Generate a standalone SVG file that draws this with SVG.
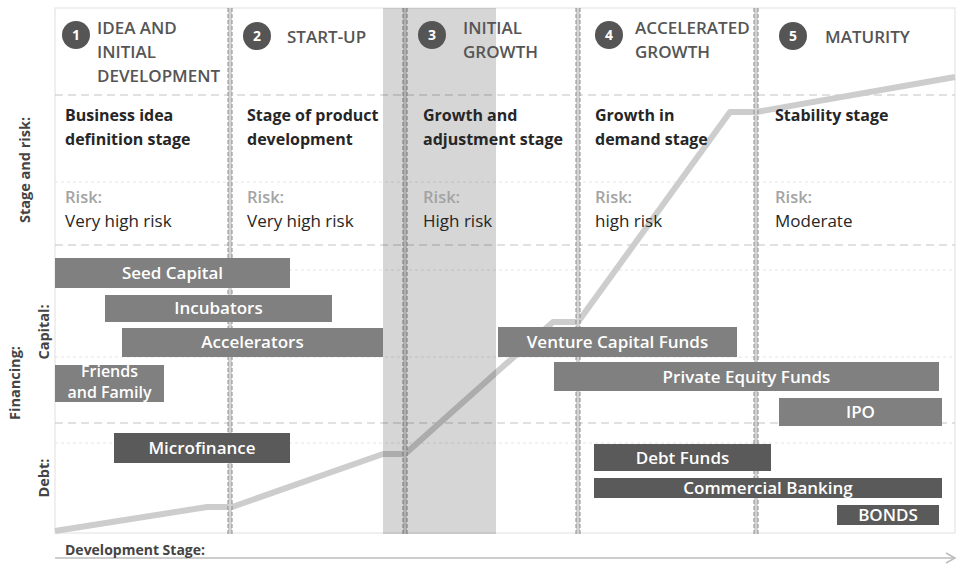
<svg xmlns="http://www.w3.org/2000/svg" width="959" height="565" viewBox="0 0 959 565">
  <style>
    text { font-family: "Open Sans", "Liberation Sans", sans-serif; }
    .hdr { font-size: 17px; font-weight: 600; fill: #555555; }
    .num { font-size: 14px; font-weight: 700; fill: #ffffff; text-anchor: middle; }
    .desc { font-size: 16px; font-weight: 700; fill: #262626; }
    .risk { font-size: 16.5px; font-weight: 600; fill: #a3a3a3; }
    .rval { font-size: 17px; font-weight: 400; fill: #262626; }
    .side { font-size: 14.5px; font-weight: 700; fill: #444444; text-anchor: middle; }
    .bartxt { font-size: 17px; font-weight: 600; fill: #ffffff; text-anchor: middle; }
    .small { font-size: 16px; }
    .cap { fill: #808080; }
    .debt { fill: #5a5a5a; }
    .circ { fill: #555555; }
    .hdash { stroke: #c4c4c4; stroke-width: 1.2; stroke-dasharray: 8 5; fill: none; }
    .hdot { stroke: #e4e4e4; stroke-width: 1; stroke-dasharray: 3 3; fill: none; }
    .vstrip { fill: #d2d2d2; }
    .vdash { stroke: #8c8c8c; stroke-width: 1; stroke-dasharray: 4 2; fill: none; }
  </style>
  <defs>
    <marker id="axisHead" markerWidth="12" markerHeight="12" refX="10" refY="6" orient="auto" markerUnits="userSpaceOnUse">
      <path d="M1,1 L10,6 L1,11" fill="none" stroke="#bdbdbd" stroke-width="1.5"/>
    </marker>
  </defs>

  <rect width="959" height="565" fill="#ffffff"/>

  <!-- chart frame -->
  <rect x="55" y="8" width="900" height="525" fill="none" stroke="#e0e0e0" stroke-width="1"/>

  <!-- horizontal band separators -->
  <g id="grid">
    <line class="hdash" x1="55" y1="95" x2="955" y2="95"/>
    <line class="hdot" x1="55" y1="182" x2="955" y2="182"/>
    <line class="hdash" x1="55" y1="245" x2="955" y2="245"/>
    <line class="hdot" x1="55" y1="270" x2="955" y2="270"/>
    <line class="hdot" x1="55" y1="357" x2="955" y2="357"/>
    <line class="hdash" x1="55" y1="423" x2="955" y2="423"/>
    <line class="hdot" x1="55" y1="443" x2="955" y2="443"/>
  </g>

  <!-- growth curve and axis -->
  <g id="connectors">
    <polyline id="growth-curve" points="55,531 207,507 232,507 383,454 405,454 553,322 578,322 730,112 756,112 955,77" fill="none" stroke="#cdcdcd" stroke-width="6" stroke-linejoin="round"/>
    <line id="axis" x1="55" y1="558" x2="955" y2="558" stroke="#bdbdbd" stroke-width="1.5" marker-end="url(#axisHead)"/>
  </g>

  <!-- stage dividers -->
  <g id="dividers">
    <g id="div-1"><rect class="vstrip" x="228" y="8" width="4" height="526"/><line class="vdash" x1="228" y1="8" x2="228" y2="534"/><line class="vdash" x1="232" y1="8" x2="232" y2="534"/></g>
    <g id="div-2"><rect class="vstrip" x="403" y="8" width="4" height="526"/><line class="vdash" x1="403" y1="8" x2="403" y2="534"/><line class="vdash" x1="407" y1="8" x2="407" y2="534"/></g>
    <g id="div-3"><rect class="vstrip" x="576" y="8" width="4" height="526"/><line class="vdash" x1="576" y1="8" x2="576" y2="534"/><line class="vdash" x1="580" y1="8" x2="580" y2="534"/></g>
    <g id="div-4"><rect class="vstrip" x="754" y="8" width="4" height="526"/><line class="vdash" x1="754" y1="8" x2="754" y2="534"/><line class="vdash" x1="758" y1="8" x2="758" y2="534"/></g>
  </g>

  <!-- shaded transition band -->
  <rect id="band" x="383" y="8" width="113" height="526" fill="#000000" fill-opacity="0.16"/>

  <!-- axis labels -->
  <g id="labels">
    <text class="side" transform="translate(30,170) rotate(-90)">Stage and risk:</text>
    <text class="side" transform="translate(49,332) rotate(-90)">Capital:</text>
    <text class="side" transform="translate(20,383) rotate(-90)">Financing:</text>
    <text class="side" transform="translate(49,478) rotate(-90)">Debt:</text>
    <text x="65" y="555" style="font-size:14px;font-weight:700;fill:#444444">Development Stage:</text>
  </g>

  <!-- stages -->
  <g id="stage-1">
    <circle class="circ" cx="76" cy="35" r="14"/>
    <text class="num" x="76" y="40">1</text>
    <text class="hdr" x="97" y="34">IDEA AND</text>
    <text class="hdr" x="97" y="58">INITIAL</text>
    <text class="hdr" x="97" y="82">DEVELOPMENT</text>
    <text class="desc" x="65" y="121">Business idea</text>
    <text class="desc" x="65" y="145">definition stage</text>
    <text class="risk" x="65" y="203">Risk:</text>
    <text class="rval" x="65" y="227">Very high risk</text>
  </g>
  <g id="stage-2">
    <circle class="circ" cx="257" cy="36" r="14"/>
    <text class="num" x="257" y="41">2</text>
    <text class="hdr" x="287" y="43">START-UP</text>
    <text class="desc" x="247" y="121">Stage of product</text>
    <text class="desc" x="247" y="145">development</text>
    <text class="risk" x="247" y="203">Risk:</text>
    <text class="rval" x="247" y="227">Very high risk</text>
  </g>
  <g id="stage-3">
    <circle class="circ" cx="432" cy="35" r="14"/>
    <text class="num" x="432" y="40">3</text>
    <text class="hdr" x="463" y="34">INITIAL</text>
    <text class="hdr" x="463" y="58">GROWTH</text>
    <text class="desc" x="423" y="121">Growth and</text>
    <text class="desc" x="423" y="145">adjustment stage</text>
    <text class="risk" x="423" y="203">Risk:</text>
    <text class="rval" x="423" y="227">High risk</text>
  </g>
  <g id="stage-4">
    <circle class="circ" cx="609" cy="35" r="14"/>
    <text class="num" x="609" y="40">4</text>
    <text class="hdr" x="635" y="34">ACCELERATED</text>
    <text class="hdr" x="635" y="58">GROWTH</text>
    <text class="desc" x="595" y="121">Growth in</text>
    <text class="desc" x="595" y="145">demand stage</text>
    <text class="risk" x="595" y="203">Risk:</text>
    <text class="rval" x="595" y="227">high risk</text>
  </g>
  <g id="stage-5">
    <circle class="circ" cx="793" cy="36" r="14"/>
    <text class="num" x="793" y="41">5</text>
    <text class="hdr" x="825" y="43">MATURITY</text>
    <text class="desc" x="775" y="121">Stability stage</text>
    <text class="risk" x="775" y="203">Risk:</text>
    <text class="rval" x="775" y="227">Moderate</text>
  </g>

  <!-- capital instruments -->
  <g id="seed-capital"><rect class="cap" x="55" y="258" width="235" height="30"/><text class="bartxt" x="172.5" y="279">Seed Capital</text></g>
  <g id="incubators"><rect class="cap" x="105" y="295" width="227" height="27"/><text class="bartxt" x="218.5" y="314">Incubators</text></g>
  <g id="accelerators"><rect class="cap" x="122" y="328" width="261" height="29"/><text class="bartxt" x="252.5" y="348">Accelerators</text></g>
  <g id="friends-family"><rect class="cap" x="55" y="365" width="109" height="37"/><text class="bartxt small" x="109.5" y="377">Friends</text><text class="bartxt small" x="109.5" y="398">and Family</text></g>
  <g id="venture-capital"><rect class="cap" x="498" y="327" width="239" height="30"/><text class="bartxt" x="617.5" y="348">Venture Capital Funds</text></g>
  <g id="private-equity"><rect class="cap" x="554" y="362" width="385" height="29"/><text class="bartxt" x="746.5" y="383">Private Equity Funds</text></g>
  <g id="ipo"><rect class="cap" x="779" y="398" width="163" height="28"/><text class="bartxt" x="860.5" y="418">IPO</text></g>

  <!-- debt instruments -->
  <g id="microfinance"><rect class="debt" x="114" y="433" width="176" height="30"/><text class="bartxt" x="202" y="454">Microfinance</text></g>
  <g id="debt-funds"><rect class="debt" x="594" y="444" width="177" height="27"/><text class="bartxt" x="682.5" y="464">Debt Funds</text></g>
  <g id="commercial-banking"><rect class="debt" x="594" y="478" width="348" height="20"/><text class="bartxt" x="768" y="494">Commercial Banking</text></g>
  <g id="bonds"><rect class="debt" x="837" y="505" width="102" height="20"/><text class="bartxt" x="888" y="521">BONDS</text></g>
</svg>
